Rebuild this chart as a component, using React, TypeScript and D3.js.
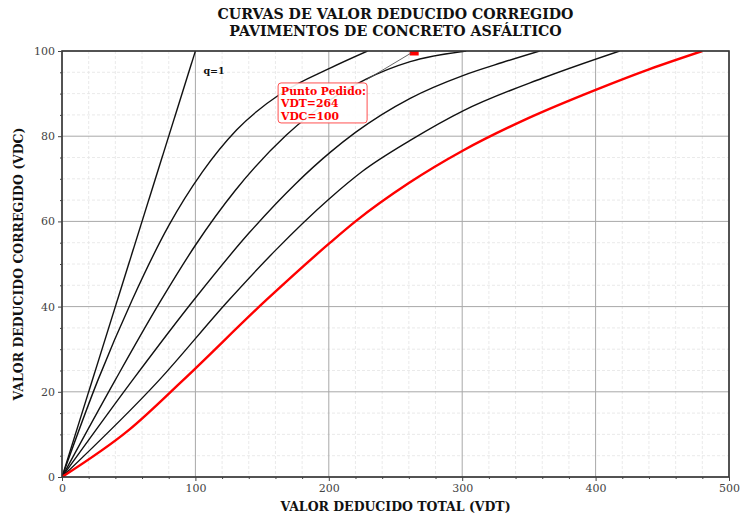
import { useEffect, useRef } from "react";
import * as d3 from "d3";

// curve points: [VDT, VDC]
const Q1: [number, number][] = [[0, 0], [100, 100]];
const Q2: [number, number][] = [[0, 0], [27, 22.8], [52.5, 41.5], [80, 59], [105, 71.5], [131, 81.5], [165, 90.2], [201, 96], [229, 100]];
const Q3: [number, number][] = [[0, 0], [40, 22.8], [73.5, 41.1], [100, 54.4], [130, 67.3], [168, 80.2], [201, 88.5], [228, 93.4], [261, 97.5], [303, 100]];
const Q4: [number, number][] = [[0, 0], [54, 23.2], [99.7, 41.9], [140, 57.2], [175, 68.8], [201, 76.2], [220, 80.9], [261, 88.9], [301, 94.3], [330, 97.3], [358, 100]];
const Q5: [number, number][] = [[0, 0], [73, 22.8], [125, 41.5], [160, 53.2], [200, 65.2], [225, 71.7], [261, 79], [301, 86], [360, 93.6], [418, 100]];
const RED: [number, number][] = [[0, 0], [50, 11], [91, 22.8], [153, 41.5], [201, 55], [220, 60], [260, 69], [301, 76.7], [350, 84.3], [401, 91], [440, 95.7], [480, 100]];

const BLACK_CURVES = [Q1, Q2, Q3, Q4, Q5];

const X_TICKS = [0, 100, 200, 300, 400, 500];
const Y_TICKS = [0, 20, 40, 60, 80, 100];

const POINT = { vdt: 264, vdc: 100 };

const TITLE = ["CURVAS DE VALOR DEDUCIDO CORREGIDO", "PAVIMENTOS DE CONCRETO ASFÁLTICO"];

const W = 744;
const H = 517;

export default function App() {
  const svgRef = useRef<SVGSVGElement>(null);

  useEffect(() => {
    const svgEl = svgRef.current;
    if (!svgEl) return;
    const margin = { top: 51, right: 15, bottom: 40, left: 62 };
    const innerW = W - margin.left - margin.right;
    const innerH = H - margin.top - margin.bottom;

    const svg = d3.select(svgEl);
    svg.selectAll("*").remove();

    const x = d3.scaleLinear().domain([0, 500]).range([0, innerW]);
    const y = d3.scaleLinear().domain([0, 100]).range([innerH, 0]);

    const font = "'DejaVu Serif', serif";

    // ── title ──
    svg.append("g")
      .selectAll("text")
      .data(TITLE)
      .join("text")
      .attr("x", margin.left + innerW / 2)
      .attr("y", (_, i) => 19 + i * 16.5)
      .attr("text-anchor", "middle")
      .attr("font-family", font)
      .attr("font-weight", "bold")
      .attr("font-size", 14.2)
      .attr("fill", "#111")
      .text((d) => d);

    const root = svg.append("g").attr("transform", `translate(${margin.left},${margin.top})`);

    svg.append("defs").append("clipPath").attr("id", "plotclip")
      .append("rect").attr("width", innerW).attr("height", innerH);

    // ── minor grid ──
    const xMinor = d3.range(0, 501, 20).filter((v) => v % 100 !== 0);
    const yMinor = d3.range(0, 101, 5).filter((v) => v % 20 !== 0);
    root.append("g").selectAll("line").data(xMinor).join("line")
      .attr("x1", (d) => x(d)).attr("x2", (d) => x(d)).attr("y1", 0).attr("y2", innerH)
      .attr("stroke", "#e4e4e4").attr("stroke-width", 0.8).attr("stroke-dasharray", "3,2");
    root.append("g").selectAll("line").data(yMinor).join("line")
      .attr("y1", (d) => y(d)).attr("y2", (d) => y(d)).attr("x1", 0).attr("x2", innerW)
      .attr("stroke", "#e4e4e4").attr("stroke-width", 0.8).attr("stroke-dasharray", "3,2");

    // ── major grid ──
    root.append("g").selectAll("line").data(X_TICKS).join("line")
      .attr("x1", (d) => x(d)).attr("x2", (d) => x(d)).attr("y1", 0).attr("y2", innerH)
      .attr("stroke", "#a8a8a8").attr("stroke-width", 1);
    root.append("g").selectAll("line").data(Y_TICKS).join("line")
      .attr("y1", (d) => y(d)).attr("y2", (d) => y(d)).attr("x1", 0).attr("x2", innerW)
      .attr("stroke", "#a8a8a8").attr("stroke-width", 1);

    // ── curves ──
    const line = d3.line<[number, number]>()
      .x((d) => x(d[0]))
      .y((d) => y(d[1]))
      .curve(d3.curveMonotoneX);

    const curves = root.append("g").attr("clip-path", "url(#plotclip)");
    curves.selectAll("path.black").data(BLACK_CURVES).join("path")
      .attr("class", "black")
      .attr("d", (d) => line(d))
      .attr("fill", "none")
      .attr("stroke", "#111")
      .attr("stroke-width", 1.4);
    curves.append("path")
      .attr("d", line(RED))
      .attr("fill", "none")
      .attr("stroke", "#ff0000")
      .attr("stroke-width", 2.4);

    // point marker (clipped at top)
    curves.append("rect")
      .attr("x", x(POINT.vdt) - 4.5)
      .attr("y", y(POINT.vdc) - 4.5)
      .attr("width", 9)
      .attr("height", 9)
      .attr("fill", "#ff0000");

    // ── axes frame ──
    root.append("rect")
      .attr("width", innerW).attr("height", innerH)
      .attr("fill", "none").attr("stroke", "#333").attr("stroke-width", 1.6);

    // ── axes ──
    const xAxis = root.append("g").attr("transform", `translate(0,${innerH})`)
      .call(d3.axisBottom(x).tickValues(X_TICKS).tickSize(4).tickPadding(3).tickFormat(d3.format("d")));
    xAxis.select(".domain").remove();
    root.append("g").attr("transform", `translate(0,${innerH})`)
      .call(d3.axisBottom(x).tickValues(xMinor).tickSize(2).tickFormat(() => ""))
      .call((g) => g.select(".domain").remove());

    const yAxis = root.append("g")
      .call(d3.axisLeft(y).tickValues(Y_TICKS).tickSize(4).tickPadding(3).tickFormat(d3.format("d")));
    yAxis.select(".domain").remove();
    root.append("g")
      .call(d3.axisLeft(y).tickValues(yMinor).tickSize(2).tickFormat(() => ""))
      .call((g) => g.select(".domain").remove());

    root.selectAll(".tick line").attr("stroke", "#444");
    root.selectAll(".tick text")
      .attr("font-family", font)
      .attr("font-size", 11)
      .attr("fill", "#444");

    // axis labels
    svg.append("text")
      .attr("x", margin.left + innerW / 2)
      .attr("y", 511)
      .attr("text-anchor", "middle")
      .attr("font-family", font)
      .attr("font-weight", "bold")
      .attr("font-size", 12.5)
      .attr("fill", "#111")
      .text("VALOR DEDUCIDO TOTAL (VDT)");
    svg.append("text")
      .attr("transform", `translate(23,${margin.top + innerH / 2}) rotate(-90)`)
      .attr("text-anchor", "middle")
      .attr("font-family", font)
      .attr("font-weight", "bold")
      .attr("font-size", 12.5)
      .attr("fill", "#111")
      .text("VALOR DEDUCIDO CORREGIDO (VDC)");

    // q=1 label
    root.append("text")
      .attr("x", x(106))
      .attr("y", y(94.5))
      .attr("font-family", font)
      .attr("font-weight", "bold")
      .attr("font-size", 9.5)
      .attr("fill", "#111")
      .text("q=1");

    // annotation
    const bx = x(162);
    const by = y(92.5);
    const bw = 89;
    const bh = 40;
    root.append("line")
      .attr("x1", bx + bw - 1).attr("y1", by - 3)
      .attr("x2", x(POINT.vdt) - 3).attr("y2", y(POINT.vdc) + 2)
      .attr("stroke", "#555").attr("stroke-width", 0.9);
    root.append("rect")
      .attr("x", bx).attr("y", by).attr("width", bw).attr("height", bh)
      .attr("rx", 3)
      .attr("fill", "white").attr("fill-opacity", 0.9)
      .attr("stroke", "#ff5050").attr("stroke-width", 1);
    root.append("g").selectAll("text")
      .data(["Punto Pedido:", `VDT=${POINT.vdt}`, `VDC=${POINT.vdc}`])
      .join("text")
      .attr("x", bx + 3)
      .attr("y", (_, i) => by + 12 + i * 12.3)
      .attr("font-family", font)
      .attr("font-weight", "bold")
      .attr("font-size", 10.8)
      .attr("fill", "#ff0000")
      .text((d) => d);
  }, []);

  return (
    <div style={{ position: "absolute", left: 0, top: 0, width: W, height: H, background: "white" }}>
      <svg ref={svgRef} width={W} height={H} />
    </div>
  );
}
